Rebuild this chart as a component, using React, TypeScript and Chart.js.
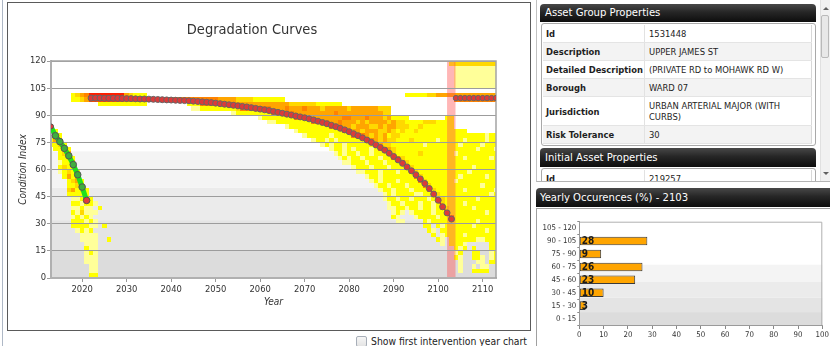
import React, { useEffect, useRef } from 'react';
import { Chart, registerables } from 'chart.js';

Chart.register(...registerables);

const FONT = "'DejaVu Sans Condensed', 'Liberation Sans', Arial, sans-serif";

// ---------------- Degradation chart data ----------------
const yearTicks = [2020, 2030, 2040, 2050, 2060, 2070, 2080, 2090, 2100, 2110];
const conditionTicks = [0, 15, 30, 45, 60, 75, 90, 105, 120];
const yearMin = 2013;
const yearMax = 2113;
const conditionMax = 120;

const observedYears = [2013, 2014, 2015, 2016, 2017, 2018, 2019, 2020, 2021];
const observedValues = [83.8, 78.7, 75.4, 71.7, 67.6, 62.7, 57.1, 50.3, 42.9];

const forecastStartYear = 2022;
const forecastValues = [
  99.5, 99.5, 99.5, 99.4, 99.4, 99.4, 99.3, 99.3, 99.2, 99.2,
  99.1, 99.0, 99.0, 98.9, 98.8, 98.7, 98.6, 98.5, 98.4, 98.3,
  98.2, 98.1, 98.0, 97.8, 97.6, 97.4, 97.2, 97.0, 96.7, 96.4,
  96.1, 95.8, 95.5, 95.2, 94.9, 94.6, 94.2, 93.8, 93.4, 93.0,
  92.6, 92.1, 91.6, 91.1, 90.6, 90.1, 89.6, 89.1, 88.6, 88.0,
  87.4, 86.7, 86.0, 85.3, 84.5, 83.7, 82.8, 81.9, 80.9, 79.8,
  78.7, 77.5, 76.3, 75.0, 73.6, 72.2, 70.7, 69.0, 67.2, 65.3,
  63.4, 61.4, 59.3, 57.1, 54.8, 52.3, 49.5, 46.4, 43.0, 39.4,
  36.0, 32.6,
];

const postYears = [2104, 2105, 2106, 2107, 2108, 2109, 2110, 2111, 2112, 2113];
const postValues = [99.5, 99.5, 99.5, 99.5, 99.5, 99.5, 99.5, 99.5, 99.5, 99.5];

const interventionSpan = [2102, 2103.9];

const bandFrom = [0, 15, 32, 50];
const bandTo = [15, 32, 50, 70];
const bandColors = ['#dcdcdc', '#e4e4e4', '#ebebeb', '#f4f4f4'];

// Heat map: one string per 2.5-point condition bin (top = 117.5-120), one char per year from 2013
const heatStartYear = 2013;
const heatBin = 2.5;
const heatRows = [
  '.......... .......... .......... .......... .......... .......... .......... .......... .......... yggggggggg g',
  '.......... .......... .......... .......... .......... .......... .......... .......... .......... .lllllllll l',
  '.......... .......... .......... .......... .......... .......... .......... .......... .......... .lllllllll l',
  '.......... .......... .......... .......... .......... .......... .......... .......... .......... .lllllllll l',
  '.......... .......... .......... .......... .......... .......... .......... .......... .......... .lllllllll l',
  '.......... .......... .......... .......... .......... .......... .......... .......... .......... .lllllllll l',
  '.......... .......... .......... .......... .......... .......... .......... .......... .......... .......... .',
  '.....ygodR RRRRRRRogy yy........ .......... .......... .......... .......... .......... yyyyyggooo oooooooooo o',
  '.....yygor rrrrrrrddd dddddddddd ddddddddoo ooggggyyyy yyy....... .......... .......... .......... .ddddddddd d',
  '.......... .yyyyyyyyy yy........ .yyydddddd ddoooooooo oooogggggg yyyyyy.... .......... .......... .......... .',
  '.......... .......... .......... ..llyyyyyy yygddddddd ooodooodoo ogooooogoo ooooggg... .......... .......... .',
  '.......... .......... .......... .......... .lyyyyyyyy dddddooooo oooodooooo ooooogg... .......... .......... .',
  '.......... .......... .......... .......... .......lyy yyyyyddddo ooooooddoo odooogoyyy y........y y......... .',
  '.......... .......... .......... .......... .........l lyyyyyyyyd dddoodooog ogoooogogg yyyygggyyy y......... .',
  'r......... .......... .......... .......... .......... ...lyyyyyy yyydddoogo ooggogoogg gyygyyyyyy y......... .',
  'oy........ .......... .......... .......... .......... .....lyyyy yyyyyyddoo goooggogyg yygyyyyyyy yyyy...... .',
  'ooy....... .......... .......... .......... .......... .......lyy yyylyyyydd dogogoyggy yyyyyyyyyy yyyyyyyyly y',
  'yoo....... .......... .......... .......... .......... .........l yylylyyyyy yddogoggyy ygyyyyylyy yyylyyyyly y',
  'yygy...... .......... .......... .......... .......... .......... .lylyylyyy yyydoggyyy yyyylyyyyy yylyyyylyy y',
  '.yyoy..... .......... .......... .......... .......... .......... ...lyylyly yylyddogyy yyyyyyyyyy yyyyyylyyy l',
  '..ygo..... .......... .......... .......... .......... .......... ....lylyyl yylyyydgyy yyygyyyyyy ylyyyyyyyy y',
  '..yygy.... .......... .......... .......... .......... .......... .....lylyy lyyylyyddg yyyyyyyyyy yyylyyyyyl y',
  '..lyyo.... .......... .......... .......... .......... .......... ......llyy ylyyylyyyd gyyyyyyyyy yyyyyyyyyy y',
  '..ygyg.... .......... .......... .......... .......... .......... ........ly yylyyylyyy dgyyyyyyyy yyyyylyyyy y',
  '..lygyy... .......... .......... .......... .......... .......... .........l lyyylyyyly ydgyyyyyyy yyyylyyyyy y',
  '...yoyo... .......... .......... .......... .......... .......... .......... .lyylyyyyy yydgyyyyyy yylyyyyyly y',
  '....ygoy.. .......... .......... .......... .......... .......... .......... ..lylyyyly yyydgyyyyy ylyyyyyyyy y',
  '....yygo.. .......... .......... .......... .......... .......... .......... ...lyylyyy lyyydgyyyy yyyyyyylyy y',
  '....goygy. .......... .......... .......... .......... .......... .......... ....lyylyy ylyyydgyyy yyylyyyyyy l',
  '....yyyyy. .......... .......... .......... .......... .......... .......... .....lylyy yyllyydgyy yyyyyyyyyl y',
  '.....llyoy .......... .......... .......... .......... .......... .......... .....lyyly ylyyylydgy yyyyyylyyy y',
  '.....yylyy l......... .......... .......... .......... .......... .......... ......lyyl yyylyylygy yyylyyyyyy y',
  '.....llyll .y........ .......... .......... .......... .......... .......... ......llyy lyylyylydg yyyyylyyyy y',
  '.....ylgll l......... .......... .......... .......... .......... .......... .......lyl .lyyyylyyd yyyyyyyyly y',
  '.....lylyl .......... .......... .......... .......... .......... .......... .......yl. ..lyyyylyy dyyyyyyyyy y',
  '.....yyyly l......... .......... .......... .......... .......... .......... ........ll ....ylyyyy yyyyyylyyy y',
  '.....yyyyl l.y....... .......... .......... .......... .......... .......... .......... ....yy.yly yyyyylyyyy y',
  '......lyly .......... .......... .......... .......... .......... .......... .......... .....yl.yy yyyyyyyyly y',
  '.......lll l......... .......... .......... .......... .......... .......... .......... ......y.ly yyylyyyyyy y',
  '.......lll l..y...... .......... .......... .......... .......... .......... .......... .......yl. yyyyyyllyy y',
  '........ll l......... .......... .......... .......... .......... .......... .......... ........l. yyyl.....y y',
  '........yl l......... .......... .......... .......... .......... .......... .......... .......... .yly.y...y y',
  '........ly l......... .......... .......... .......... .......... .......... .......... .......... .ly..yy..l y',
  '........ll l......... .......... .......... .......... .......... .......... .......... .......... .yl..yyl.l y',
  '........ll l......... .......... .......... .......... .......... .......... .......... .......... ..l...ll.y y',
  '.........l l......... .......... .......... .......... .......... .......... .......... .......... ..l..l.ll. .',
  '.........l l......... .......... .......... .......... .......... .......... .......... .......... ..l..yyyy. .',
  '.........y y......... .......... .......... .......... .......... .......... .......... .......... .......... .',
];
const heatColors: Record<string, string> = {
  l: '#ffff99',
  y: '#ffff00',
  g: '#ffd800',
  o: '#ffa500',
  d: '#ff8200',
  r: '#ff4a00',
  R: '#ff1e00',
};

// ---------------- Yearly occurrence data ----------------
const occurrenceYear = 2103;
const occurrenceRanges = ['105 - 120', '90 - 105', '75 - 90', '60 - 75', '45 - 60', '30 - 45', '15 - 30', '0 - 15'];
const occurrenceValues = [0.3, 28, 9, 26, 23, 10, 2.6, 0.3];
const occurrenceTicks = [0, 10, 20, 30, 40, 50, 60, 70, 80, 90, 100];

// ---------------- Property tables ----------------
const assetGroupLabels = ['Id', 'Description', 'Detailed Description', 'Borough', 'Jurisdiction', 'Risk Tolerance'];
const assetGroupValues = ['1531448', 'UPPER JAMES ST', '(PRIVATE RD to MOHAWK RD W)', 'WARD 07', 'URBAN ARTERIAL MAJOR (WITH\nCURBS)', '30'];
const initialAssetLabels = ['Id'];
const initialAssetValues = ['219257'];

// ---------------- Plugins ----------------
const degradationBackground = {
  id: 'degradationBackground',
  beforeDraw(chart: any) {
    const { ctx, chartArea: a, scales } = chart;
    const x = scales.x;
    const y = scales.y;
    ctx.save();
    ctx.beginPath();
    ctx.rect(a.left, a.top, a.right - a.left, a.bottom - a.top);
    ctx.clip();
    ctx.fillStyle = '#ffffff';
    ctx.fillRect(a.left, a.top, a.right - a.left, a.bottom - a.top);
    bandFrom.forEach((f, i) => {
      const y1 = y.getPixelForValue(bandTo[i]);
      const y2 = y.getPixelForValue(f);
      ctx.fillStyle = bandColors[i];
      ctx.fillRect(a.left, y1, a.right - a.left, y2 - y1);
    });
    const n = heatRows.length;
    heatRows.forEach((row, i) => {
      const r = n - 1 - i;
      const cells = row.replace(/ /g, '');
      const vLo = r * heatBin;
      const vHi = vLo + heatBin;
      const yTop = Math.round(y.getPixelForValue(vHi));
      const yBot = Math.round(y.getPixelForValue(vLo));
      for (let c = 0; c < cells.length; c++) {
        const ch = cells[c];
        if (ch === '.') continue;
        const yr = heatStartYear + c;
        const x0 = Math.round(x.getPixelForValue(yr - 0.5));
        const x1 = Math.round(x.getPixelForValue(yr + 0.5));
        ctx.fillStyle = heatColors[ch];
        ctx.fillRect(x0, yTop, x1 - x0, yBot - yTop);
      }
    });
    const bx0 = x.getPixelForValue(interventionSpan[0]);
    const bx1 = x.getPixelForValue(interventionSpan[1]);
    ctx.fillStyle = 'rgba(255, 80, 80, 0.42)';
    ctx.fillRect(bx0, a.top, bx1 - bx0, a.bottom - a.top);
    ctx.restore();
  },
  beforeDatasetsDraw(chart: any) {
    const { ctx, chartArea: a } = chart;
    ctx.save();
    ctx.strokeStyle = '#a4a4a4';
    ctx.lineWidth = 1.5;
    ctx.beginPath();
    ctx.moveTo(a.left, a.top);
    ctx.lineTo(a.right, a.top);
    ctx.lineTo(a.right, a.bottom);
    ctx.stroke();
    ctx.restore();
  },
};

const occurrenceDecor = {
  id: 'occurrenceDecor',
  beforeDraw(chart: any) {
    const { ctx, chartArea: a } = chart;
    ctx.save();
    const h = a.bottom - a.top;
    bandFrom.forEach((f, i) => {
      const y1 = a.top + ((conditionMax - bandTo[i]) / conditionMax) * h;
      const y2 = a.top + ((conditionMax - f) / conditionMax) * h;
      ctx.fillStyle = bandColors[i];
      ctx.fillRect(a.left, y1, a.right - a.left, y2 - y1);
    });
    ctx.strokeStyle = '#b0b0b0';
    ctx.lineWidth = 1;
    ctx.beginPath();
    ctx.moveTo(a.left, a.top + 0.5);
    ctx.lineTo(a.right - 0.5, a.top + 0.5);
    ctx.lineTo(a.right - 0.5, a.bottom);
    ctx.stroke();
    ctx.restore();
  },
  afterDatasetsDraw(chart: any) {
    const { ctx } = chart;
    const meta = chart.getDatasetMeta(0);
    ctx.save();
    ctx.font = `bold 10px ${FONT}`;
    ctx.fillStyle = '#1a1a1a';
    ctx.textAlign = 'left';
    ctx.textBaseline = 'middle';
    meta.data.forEach((bar: any, i: number) => {
      const v = Math.round(occurrenceValues[i]);
      if (v < 1) return;
      ctx.fillText(String(v), bar.base + 2, bar.y + 0.5);
    });
    ctx.restore();
  },
};

function makeMainChart(canvas: HTMLCanvasElement) {
  const lastObs = observedYears.length - 1;
  return new Chart(canvas, {
    type: 'line',
    data: {
      datasets: [
        {
          data: observedYears.map((x, i) => ({ x, y: observedValues[i] })),
          borderColor: '#1ee01e',
          borderWidth: 5,
          pointRadius: observedYears.map((_, i) => (i === 0 ? 2.5 : 3.3)),
          pointBackgroundColor: observedYears.map((_, i) => (i === 0 || i === lastObs ? '#e03c3c' : '#3fae3f')),
          pointBorderColor: '#555',
          pointBorderWidth: 1,
          tension: 0,
        },
        {
          data: forecastValues.map((v, i) => ({ x: forecastStartYear + i, y: v })),
          borderColor: '#e81e1e',
          borderWidth: 1.5,
          pointRadius: 3,
          pointBackgroundColor: '#dc3a3a',
          pointBorderColor: '#666666',
          pointBorderWidth: 1,
          tension: 0,
        },
        {
          data: postYears.map((x, i) => ({ x, y: postValues[i] })),
          borderColor: '#e81e1e',
          borderWidth: 1.5,
          pointRadius: 2.7,
          pointBackgroundColor: '#dc3a3a',
          pointBorderColor: '#666666',
          pointBorderWidth: 1,
          tension: 0,
        },
      ],
    },
    options: {
      responsive: false,
      animation: false,
      devicePixelRatio: 1,
      events: [],
      layout: { padding: { left: 0, right: 34, top: 0, bottom: 22 } },
      plugins: {
        legend: { display: false },
        tooltip: { enabled: false },
        title: {
          display: true,
          text: 'Degradation Curves',
          color: '#333',
          font: { family: FONT, size: 14.5, weight: 'normal' },
          padding: { top: 18.5, bottom: 22.1 },
        },
      },
      scales: {
        x: {
          type: 'linear',
          min: yearMin,
          max: yearMax,
          afterBuildTicks: (s: any) => {
            s.ticks = yearTicks.map((v) => ({ value: v }));
          },
          afterFit: (s: any) => {
            s.height = 30;
          },
          ticks: {
            autoSkip: false,
            maxRotation: 0,
            padding: 2,
            color: '#333',
            font: { family: FONT, size: 9.33 },
            callback: (v: any) => String(v),
          },
          grid: { drawOnChartArea: false, drawTicks: true, tickLength: 4, color: '#999' },
          border: { color: '#b0b0b0', width: 2 },
          title: {
            display: true,
            text: 'Year',
            color: '#333',
            font: { family: FONT, size: 10, style: 'italic' },
            padding: 0,
          },
        },
        y: {
          type: 'linear',
          min: 0,
          max: conditionMax,
          afterBuildTicks: (s: any) => {
            s.ticks = conditionTicks.map((v) => ({ value: v }));
          },
          afterFit: (s: any) => {
            s.width = 43;
          },
          ticks: {
            padding: 1,
            color: '#333',
            font: { family: FONT, size: 9.33 },
            callback: (v: any) => String(v),
          },
          grid: { color: '#9c9c9c', lineWidth: 1, tickLength: 4 },
          border: { color: '#b0b0b0', width: 2 },
          title: {
            display: true,
            text: 'Condition Index',
            color: '#333',
            font: { family: FONT, size: 10, style: 'italic' },
            padding: { top: 9.5, bottom: 0 },
          },
        },
      },
    },
    plugins: [degradationBackground],
  } as any);
}

function makeBarChart(canvas: HTMLCanvasElement) {
  return new Chart(canvas, {
    type: 'bar',
    data: {
      labels: occurrenceRanges,
      datasets: [
        {
          data: occurrenceValues,
          backgroundColor: '#ffa500',
          borderColor: '#3a3a3a',
          borderWidth: 1,
          borderSkipped: false,
          barPercentage: 0.66,
          categoryPercentage: 1,
        },
      ],
    },
    options: {
      indexAxis: 'y',
      responsive: false,
      animation: false,
      devicePixelRatio: 1,
      events: [],
      layout: { padding: { left: 0, right: 5, top: 12.7, bottom: 0 } },
      plugins: { legend: { display: false }, tooltip: { enabled: false } },
      scales: {
        x: {
          type: 'linear',
          min: 0,
          max: 100,
          afterBuildTicks: (s: any) => {
            s.ticks = occurrenceTicks.map((v) => ({ value: v }));
          },
          afterFit: (s: any) => {
            s.height = 21;
          },
          ticks: {
            autoSkip: false,
            maxRotation: 0,
            padding: 1,
            color: '#333',
            font: { family: FONT, size: 7.8 },
            callback: (v: any) => String(v),
          },
          grid: { drawOnChartArea: false, drawTicks: true, tickLength: 4, color: '#888' },
          border: { color: '#9a9a9a', width: 1 },
        },
        y: {
          afterFit: (s: any) => {
            s.width = 42.3;
          },
          ticks: { padding: 1, color: '#333', font: { family: FONT, size: 7.8 } },
          grid: { drawOnChartArea: false, drawTicks: true, tickLength: 2, color: '#888' },
          border: { color: '#9a9a9a', width: 1 },
        },
      },
    },
    plugins: [occurrenceDecor],
  } as any);
}

const headerStyle: React.CSSProperties = {
  position: 'absolute',
  background: 'linear-gradient(#484848 0%, #262626 45%, #0d0d0d 100%)',
  color: '#ffffff',
  fontFamily: FONT,
  fontSize: 11.2,
  borderRadius: '4px 4px 0 0',
  paddingLeft: 5,
  boxSizing: 'border-box',
  whiteSpace: 'nowrap',
};

function PropTable({ labels, values, left, top }: { labels: string[]; values: string[]; left: number; top: number }) {
  return (
    <div
      style={{
        position: 'absolute',
        left,
        top,
        width: 275,
        border: '1px solid #a9a9a9',
        borderRadius: 3,
        background: '#fff',
        boxSizing: 'border-box',
        padding: '1px 3px 1px 1px',
        fontFamily: FONT,
        fontSize: 9.33,
        color: '#1e1e1e',
      }}
    >
      {labels.map((l, i) => {
        const multi = values[i].indexOf('\n') >= 0;
        const h = multi ? 29 : 18;
        return (
          <div
            key={l}
            style={{
              display: 'flex',
              height: h,
              background: i % 2 ? '#f3f3f3' : '#ffffff',
              borderBottom: '1px solid #e4e4e4',
              boxSizing: 'border-box',
            }}
          >
            <div
              style={{
                width: 102,
                flex: 'none',
                fontWeight: 'bold',
                paddingLeft: 3,
                display: 'flex',
                alignItems: 'center',
                borderRight: '1px solid #e2e2e2',
                boxSizing: 'border-box',
              }}
            >
              {l}
            </div>
            <div
              style={{
                flex: 1,
                paddingLeft: 4,
                display: 'flex',
                alignItems: 'center',
                whiteSpace: 'pre-line',
                lineHeight: '11.5px',
                borderRight: '1px solid #d8d8d8',
              }}
            >
              {values[i]}
            </div>
          </div>
        );
      })}
    </div>
  );
}

export default function App() {
  const mainRef = useRef<HTMLCanvasElement>(null);
  const barRef = useRef<HTMLCanvasElement>(null);

  useEffect(() => {
    const c1 = makeMainChart(mainRef.current as HTMLCanvasElement);
    const c2 = makeBarChart(barRef.current as HTMLCanvasElement);
    return () => {
      c1.destroy();
      c2.destroy();
    };
  }, []);

  return (
    <div
      style={{
        position: 'absolute',
        left: 0,
        top: 0,
        width: 830,
        height: 346,
        overflow: 'hidden',
        background: '#ffffff',
        fontFamily: FONT,
      }}
    >
      {/* outer left rule */}
      <div style={{ position: 'absolute', left: 2, top: 0, width: 1, height: 346, background: '#aeb8c6' }} />

      {/* degradation chart box */}
      <div
        style={{
          position: 'absolute',
          left: 7,
          top: 2,
          width: 524,
          height: 329,
          border: '1px solid #5a5a5a',
          boxSizing: 'border-box',
          background: '#fff',
        }}
      >
        <canvas ref={mainRef} width={522} height={327} style={{ display: 'block', width: 522, height: 327 }} />
      </div>

      {/* checkbox */}
      <div
        style={{
          position: 'absolute',
          left: 356,
          top: 336,
          width: 11,
          height: 11,
          border: '1px solid #a7aeb8',
          borderRadius: 2,
          boxSizing: 'border-box',
          background: 'linear-gradient(#f6f6f6, #e4e4e4)',
        }}
      />
      <div
        style={{
          position: 'absolute',
          left: 371,
          top: 334,
          fontFamily: FONT,
          fontSize: 10.3,
          lineHeight: '14px',
          color: '#222',
          whiteSpace: 'nowrap',
        }}
      >
        Show first intervention year chart
      </div>

      {/* properties panel */}
      <div
        style={{
          position: 'absolute',
          left: 536,
          top: 0,
          width: 294,
          height: 182,
          borderLeft: '1px solid #c2c2c2',
          borderBottom: '1px solid #b4b4b4',
          boxSizing: 'border-box',
          overflow: 'hidden',
          background: '#fff',
        }}
      >
        <div style={{ ...headerStyle, left: 3, top: 4, width: 276, height: 18, lineHeight: '18px' }}>
          Asset Group Properties
        </div>
        <PropTable labels={assetGroupLabels} values={assetGroupValues} left={4} top={23} />
        <div style={{ ...headerStyle, left: 3, top: 148, width: 276, height: 19, lineHeight: '19px' }}>
          Initial Asset Properties
        </div>
        <PropTable labels={initialAssetLabels} values={initialAssetValues} left={4} top={168} />
        {/* scrollbar */}
        <div
          style={{
            position: 'absolute',
            left: 283,
            top: 0,
            width: 10,
            height: 182,
            background: '#f1f1f1',
            borderLeft: '1px solid #e0e0e0',
            boxSizing: 'border-box',
          }}
        >
          <div
            style={{
              position: 'absolute',
              left: 2,
              top: 7,
              width: 0,
              height: 0,
              borderLeft: '3px solid transparent',
              borderRight: '3px solid transparent',
              borderBottom: '3px solid #606060',
            }}
          />
          <div
            style={{
              position: 'absolute',
              left: 0,
              top: 15,
              width: 8,
              height: 43,
              background: '#e8e8e8',
              border: '1px solid #b9b9b9',
              borderRadius: 2,
              boxSizing: 'border-box',
            }}
          />
          <div
            style={{
              position: 'absolute',
              left: 2,
              top: 172,
              width: 0,
              height: 0,
              borderLeft: '3px solid transparent',
              borderRight: '3px solid transparent',
              borderTop: '3px solid #606060',
            }}
          />
        </div>
      </div>

      {/* yearly occurrences panel */}
      <div style={{ ...headerStyle, left: 536, top: 188, width: 294, height: 19, lineHeight: '19px', paddingLeft: 4, borderRadius: '4px 0 0 0' }}>
        {`Yearly Occurences (%) - ${occurrenceYear}`}
      </div>
      <div
        style={{
          position: 'absolute',
          left: 536,
          top: 208,
          width: 294,
          height: 138,
          borderLeft: '1px solid #a0a0a0',
          borderTop: '1px solid #a0a0a0',
          boxSizing: 'border-box',
          background: '#fff',
        }}
      >
        <canvas ref={barRef} width={293} height={137} style={{ display: 'block', width: 293, height: 137 }} />
      </div>
    </div>
  );
}
